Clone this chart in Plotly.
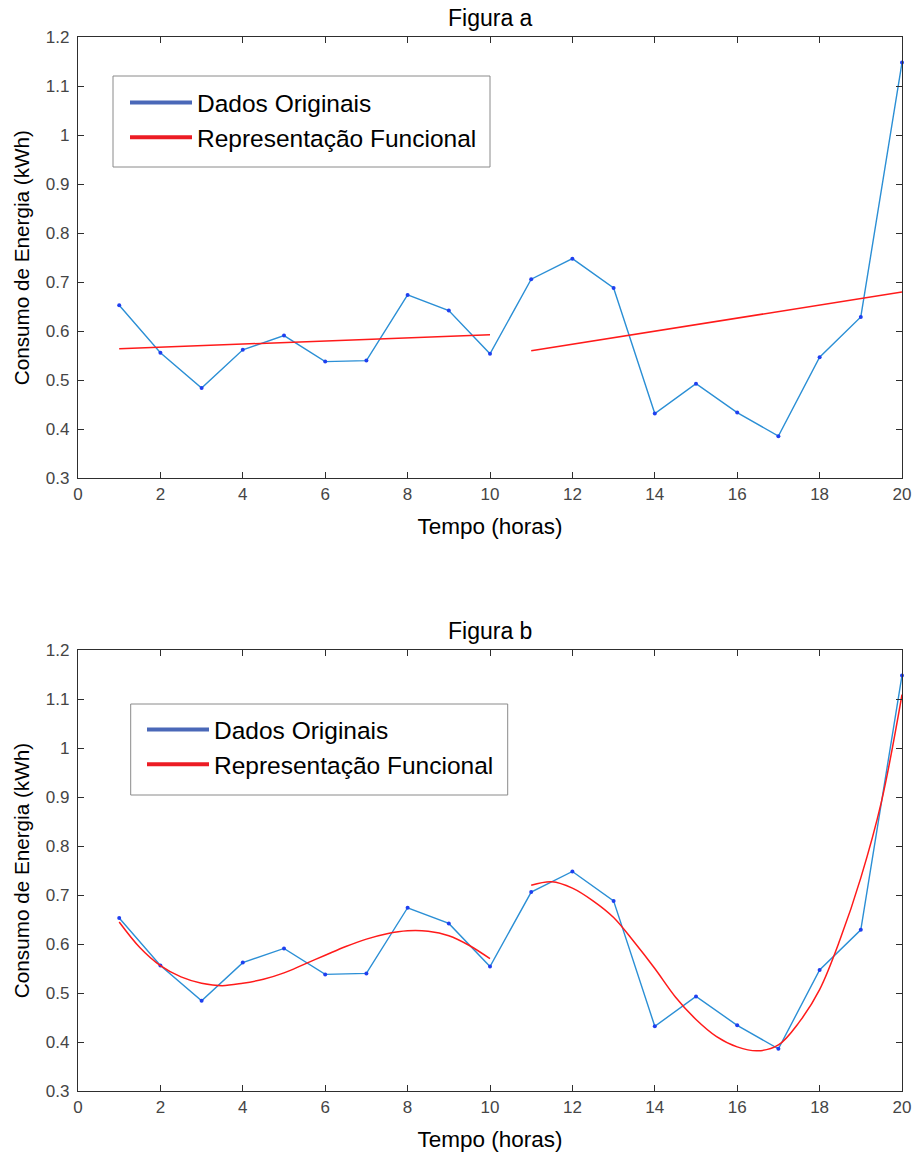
import plotly.graph_objects as go

# ---------------- data ----------------
hours = list(range(1, 21))
consumo = [0.653, 0.556, 0.484, 0.562, 0.591, 0.538, 0.540, 0.674, 0.642, 0.554,
           0.706, 0.748, 0.688, 0.432, 0.493, 0.434, 0.386, 0.547, 0.629, 1.148]

# Figura a: linear functional representation (two segments, read at endpoints)
fit_a_x = [1, 10, None, 11, 20]
fit_a_y = [0.564, 0.593, None, 0.560, 0.680]

# Figura b: smooth functional representation
fit_b1_x = [1, 1.5, 2, 2.5, 3, 3.5, 4, 4.5, 5, 5.5, 6, 6.5, 7, 7.5, 8, 8.5, 9, 9.5, 10]
fit_b1_y = [0.645, 0.593, 0.556, 0.533, 0.520, 0.515, 0.520, 0.528, 0.541, 0.559,
            0.577, 0.595, 0.610, 0.621, 0.627, 0.626, 0.617, 0.597, 0.570]
fit_b2_x = [11, 11.5, 12, 12.5, 13, 13.5, 14, 14.5, 15, 15.5, 16, 16.5, 17, 17.5,
            18, 18.5, 19, 19.5, 20]
fit_b2_y = [0.720, 0.727, 0.714, 0.688, 0.654, 0.604, 0.550, 0.492, 0.446, 0.411,
            0.390, 0.382, 0.394, 0.440, 0.507, 0.610, 0.735, 0.890, 1.109]

x_ticks = [0, 2, 4, 6, 8, 10, 12, 14, 16, 18, 20]
y_ticks = [0.3, 0.4, 0.5, 0.6, 0.7, 0.8, 0.9, 1.0, 1.1, 1.2]
y_tick_labels = ["0.3", "0.4", "0.5", "0.6", "0.7", "0.8", "0.9", "1", "1.1", "1.2"]

titles = ["Figura a", "Figura b"]
legend_names = ["Dados Originais", "Representação Funcional"]
x_title = "Tempo (horas)"
y_title = "Consumo de Energia (kWh)"

# ---------------- style ----------------
FONT = "Liberation Sans, Arial, Helvetica, sans-serif"
BLUE_LINE = "#2b8fd5"
BLUE_MARK = "#1f3ff0"
RED = "#ff1a1a"
LEG_BLUE = "#4a68b8"
LEG_RED = "#ec1c24"
AXIS_COL = "#2e2e2e"
TICK_COL = "#454545"

W, H = 912, 1156
ML, MR, MT, MB = 78, 10, 37, 65
PW = W - ML - MR
PH = H - MT - MB
BOTTOM_PX = H - MB


def px_x(p):
    return (p - ML) / PW


def px_y(p):
    return (BOTTOM_PX - p) / PH


TOP_DOM = [px_y(478.3), 1.0]
BOT_DOM = [0.0, px_y(650)]

fig = go.Figure()

panels = [("x", "y", "legend", [(fit_a_x, fit_a_y)]),
          ("x2", "y2", "legend2", [(fit_b1_x, fit_b1_y), (fit_b2_x, fit_b2_y)])]

for xa, ya, leg, fits in panels:
    fig.add_trace(go.Scatter(x=hours, y=consumo, mode="lines+markers",
                             line=dict(color=BLUE_LINE, width=1.4),
                             marker=dict(color=BLUE_MARK, size=4),
                             showlegend=False, xaxis=xa, yaxis=ya,
                             cliponaxis=False))
    for fx, fy in fits:
        fig.add_trace(go.Scatter(x=fx, y=fy, mode="lines",
                                 line=dict(color=RED, width=1.5,
                                           shape="spline" if xa == "x2" else "linear"),
                                 connectgaps=False, showlegend=False,
                                 xaxis=xa, yaxis=ya))
    # legend entries
    fig.add_trace(go.Scatter(x=[None], y=[None], mode="lines", name=legend_names[0],
                             line=dict(color=LEG_BLUE, width=4), legend=leg,
                             xaxis=xa, yaxis=ya))
    fig.add_trace(go.Scatter(x=[None], y=[None], mode="lines", name=legend_names[1],
                             line=dict(color=LEG_RED, width=4), legend=leg,
                             xaxis=xa, yaxis=ya))


def xaxis_cfg(anchor):
    return dict(domain=[0, 1], anchor=anchor, range=[0, 20], tickvals=x_ticks,
                ticks="inside", ticklen=6, tickcolor=AXIS_COL, tickwidth=1.2,
                showline=True, linecolor=AXIS_COL, linewidth=1.3, mirror="ticks",
                showgrid=False, zeroline=False, automargin=False,
                tickfont=dict(size=17, color=TICK_COL, family=FONT),
                title=dict(text=x_title, font=dict(size=22.5, color="black", family=FONT),
                           standoff=15))


def yaxis_cfg(anchor, dom):
    return dict(domain=dom, anchor=anchor, range=[0.3, 1.2], tickvals=y_ticks,
                ticktext=y_tick_labels,
                ticks="inside", ticklen=6, tickcolor=AXIS_COL, tickwidth=1.2,
                showline=True, linecolor=AXIS_COL, linewidth=1.3, mirror="ticks",
                showgrid=False, zeroline=False, ticklabelstandoff=4, automargin=False,
                tickfont=dict(size=17, color=TICK_COL, family=FONT),
                title=dict(text=y_title, font=dict(size=20.7, color="black", family=FONT),
                           standoff=10))


def legend_cfg(x, y):
    return dict(x=x, y=y, xanchor="left", yanchor="top", bgcolor="rgba(0,0,0,0)",
                borderwidth=0,
                font=dict(size=24.5, color="black", family=FONT),
                tracegroupgap=0, itemwidth=62)


# legend frames (layout decoration)
legend_boxes = [(113, 76, 490, 167), (130.7, 704, 507.7, 795)]
shapes = []
for x0, y0, x1, y1 in legend_boxes:
    shapes.append(dict(type="rect", xref="paper", yref="paper",
                       x0=px_x(x0), x1=px_x(x1), y0=px_y(y1), y1=px_y(y0),
                       line=dict(color="#8a8a8a", width=1), fillcolor="white",
                       layer="below"))

fig.update_layout(
    width=W, height=H,
    margin=dict(l=ML, r=MR, t=MT, b=MB),
    paper_bgcolor="white", plot_bgcolor="white",
    font=dict(family=FONT),
    xaxis=xaxis_cfg("y"), yaxis=yaxis_cfg("x", TOP_DOM),
    xaxis2=xaxis_cfg("y2"), yaxis2=yaxis_cfg("x2", BOT_DOM),
    legend=legend_cfg(px_x(125), px_y(80)),
    legend2=legend_cfg(px_x(142), px_y(707)),
    shapes=shapes,
    annotations=[
        dict(text=titles[0], xref="paper", yref="paper", x=0.5, y=TOP_DOM[1],
             xanchor="center", yanchor="bottom", showarrow=False, yshift=4,
             font=dict(size=23, color="black", family=FONT)),
        dict(text=titles[1], xref="paper", yref="paper", x=0.5, y=BOT_DOM[1],
             xanchor="center", yanchor="bottom", showarrow=False, yshift=4,
             font=dict(size=23, color="black", family=FONT)),
    ],
    showlegend=True,
)

fig.write_html("out.html",
               config={"displayModeBar": False},
               post_script="document.body.style.margin='0px';"
                           "document.body.style.overflow='hidden';")
